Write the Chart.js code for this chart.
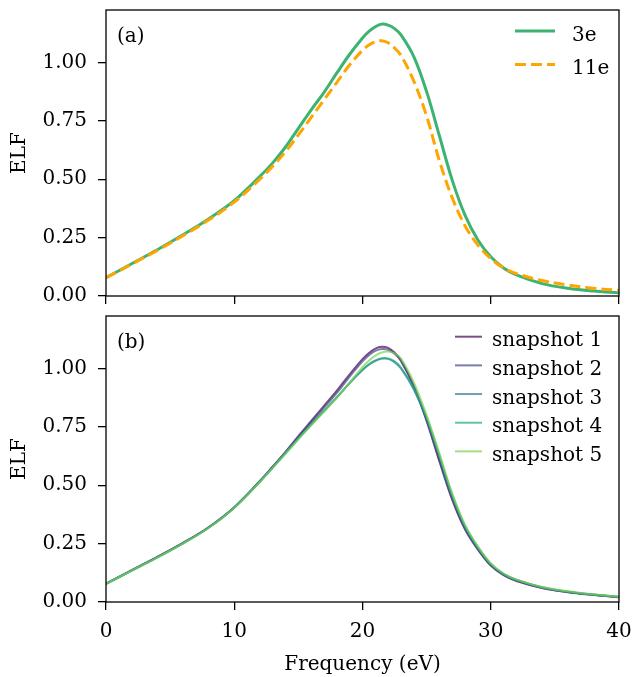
<!DOCTYPE html>
<html>
<head>
<meta charset="utf-8">
<script src="https://cdn.jsdelivr.net/npm/chart.js@4.4.1/dist/chart.umd.min.js"></script>
<style>
  body { margin: 0; background: #fff; }
  #wrap { position: relative; width: 632px; height: 677px; }
  canvas { position: absolute; left: 0; }
</style>
</head>
<body>
<div id="wrap">
  <canvas id="panelA" width="632" height="310" style="top:0"></canvas>
  <canvas id="panelB" width="632" height="372" style="top:305px"></canvas>
</div>
<script>
// frequency grid (eV), shared by every curve
const freq = [0, 2, 4, 6, 8, 10, 12, 13, 14, 15, 16, 17, 18, 19, 20, 20.5, 21, 21.5, 22, 22.5,
              23, 24, 25, 26, 27, 28, 29, 30, 31, 32, 34, 36, 38, 40];

// panel (a)
const elf3e  = [0.078, 0.138, 0.198, 0.262, 0.330, 0.408, 0.512, 0.570, 0.638, 0.718, 0.797, 0.872, 0.955, 1.035, 1.105, 1.133, 1.153, 1.164, 1.160, 1.145,
                1.118, 1.025, 0.875, 0.685, 0.495, 0.345, 0.240, 0.168, 0.120, 0.090, 0.053, 0.033, 0.021, 0.013];
const elf11e = [0.078, 0.136, 0.195, 0.258, 0.325, 0.402, 0.500, 0.556, 0.618, 0.690, 0.765, 0.840, 0.915, 0.990, 1.052, 1.075, 1.088, 1.093, 1.084, 1.062,
                1.030, 0.920, 0.770, 0.578, 0.420, 0.300, 0.218, 0.160, 0.120, 0.096, 0.066, 0.047, 0.033, 0.024];

// panel (b)
const snap1 = [0.079, 0.136, 0.193, 0.253, 0.320, 0.406, 0.518, 0.580, 0.643, 0.710, 0.775, 0.840, 0.905, 0.975, 1.040, 1.066, 1.085, 1.093, 1.088, 1.068,
               1.035, 0.925, 0.775, 0.602, 0.437, 0.310, 0.224, 0.156, 0.115, 0.090, 0.060, 0.042, 0.030, 0.020];
const snap2 = [0.078, 0.135, 0.192, 0.252, 0.319, 0.405, 0.517, 0.578, 0.640, 0.706, 0.769, 0.832, 0.895, 0.965, 1.030, 1.057, 1.075, 1.083, 1.080, 1.063,
               1.032, 0.922, 0.778, 0.607, 0.442, 0.314, 0.227, 0.158, 0.117, 0.092, 0.061, 0.043, 0.031, 0.021];
const snap3 = [0.078, 0.134, 0.191, 0.251, 0.318, 0.404, 0.515, 0.576, 0.637, 0.700, 0.760, 0.818, 0.876, 0.937, 0.993, 1.016, 1.032, 1.042, 1.041, 1.027,
               1.000, 0.910, 0.785, 0.622, 0.452, 0.321, 0.232, 0.161, 0.119, 0.094, 0.062, 0.044, 0.031, 0.021];
const snap4 = [0.078, 0.134, 0.191, 0.251, 0.318, 0.404, 0.516, 0.577, 0.638, 0.700, 0.760, 0.819, 0.877, 0.938, 0.995, 1.018, 1.034, 1.044, 1.043, 1.030,
               1.003, 0.915, 0.790, 0.627, 0.457, 0.325, 0.234, 0.163, 0.120, 0.095, 0.063, 0.045, 0.032, 0.022];
const snap5 = [0.078, 0.134, 0.190, 0.250, 0.317, 0.403, 0.514, 0.574, 0.635, 0.696, 0.756, 0.815, 0.874, 0.940, 1.005, 1.033, 1.055, 1.068, 1.072, 1.064,
               1.042, 0.940, 0.800, 0.635, 0.465, 0.330, 0.238, 0.166, 0.122, 0.096, 0.064, 0.046, 0.033, 0.022];

const snapLabels = ['snapshot 1', 'snapshot 2', 'snapshot 3', 'snapshot 4', 'snapshot 5'];
const snapColors = ['rgba(68,1,84,0.7)', 'rgba(65,68,135,0.7)', 'rgba(42,120,142,0.7)',
                    'rgba(34,168,132,0.7)', 'rgba(122,209,81,0.7)'];
const xTicks = [0, 10, 20, 30, 40];
const yTicks = [0, 0.25, 0.5, 0.75, 1.0];

Chart.defaults.font.family = '"DejaVu Serif", serif';
Chart.defaults.font.size = 20;
Chart.defaults.color = '#000';

let toPoints = function(ys) {
    return freq.map((x, i) => ({x: x, y: ys[i]}))
}

// frame, panel tag and an in-axes legend, matplotlib style
const panelDecor = {
    id: 'panelDecor',
    afterDraw(chart, args, opts) {
        const ctx = chart.ctx
        const a = chart.chartArea
        ctx.save()
        ctx.strokeStyle = '#000'
        ctx.lineWidth = 1.3
        ctx.strokeRect(a.left, a.top, a.right - a.left, a.bottom - a.top)

        ctx.font = '20px "DejaVu Serif"'
        ctx.fillStyle = '#000'
        ctx.textBaseline = 'alphabetic'
        ctx.fillText(opts.tag, 117, a.top + 31.5)

        const lg = opts.legend
        opts.order.forEach((di, row) => {
            const ds = chart.data.datasets[di]
            const y = lg.y + row * lg.dy
            ctx.strokeStyle = ds.borderColor
            ctx.lineWidth = ds.borderWidth
            ctx.setLineDash(ds.borderDash || [])
            ctx.beginPath()
            ctx.moveTo(lg.x0, y)
            ctx.lineTo(lg.x1, y)
            ctx.stroke()
            ctx.setLineDash([])
            ctx.fillText(ds.label, lg.tx, y + 9.5)
        })
        ctx.restore()
    }
}

let noPad = function(s) {
    s.paddingTop = 0
    s.paddingBottom = 0
    s.paddingLeft = 0
    s.paddingRight = 0
}

let makeScales = function(showX, xHeight) {
    const grid = {drawOnChartArea: false, drawTicks: true, tickLength: 8, color: '#000', lineWidth: 1.3}
    return {
        x: {
            type: 'linear', min: 0, max: 40,
            border: {display: false},
            grid: grid,
            afterBuildTicks: s => { s.ticks = xTicks.map(v => ({value: v})) },
            ticks: {padding: 10, maxRotation: 0, callback: v => showX ? String(v) : ''},
            title: {display: showX, text: 'Frequency (eV)', padding: {top: 3, bottom: 0}},
            afterFit: s => { s.height = xHeight; noPad(s) }
        },
        y: {
            type: 'linear', min: 0, max: 1.2245,
            border: {display: false},
            grid: grid,
            afterBuildTicks: s => { s.ticks = yTicks.map(v => ({value: v})) },
            ticks: {padding: 11, callback: v => v.toFixed(2)},
            title: {display: true, text: 'ELF', padding: {top: 8, bottom: 0}},
            afterFit: s => { s.width = 106; noPad(s) }
        }
    }
}

new Chart(document.getElementById('panelA'), {
    type: 'line',
    data: {
        datasets: [
            {label: '3e', data: toPoints(elf3e), borderColor: '#3cb371', borderWidth: 3, order: 1},
            {label: '11e', data: toPoints(elf11e), borderColor: '#ffa500', borderWidth: 3, borderDash: [11, 5], order: 0}
        ]
    },
    options: {
        responsive: false,
        animation: false,
        devicePixelRatio: 1,
        layout: {padding: {top: 10, right: 13, left: 0, bottom: 0}},
        elements: {point: {radius: 0}, line: {tension: 0.35, fill: false}},
        scales: makeScales(false, 14),
        plugins: {
            legend: {display: false},
            tooltip: {enabled: false},
            panelDecor: {tag: '(a)', order: [0, 1], legend: {x0: 515, x1: 555, y: 31, dy: 33.5, tx: 572}}
        }
    },
    plugins: [panelDecor]
});

const snaps = [snap1, snap2, snap3, snap4, snap5]
new Chart(document.getElementById('panelB'), {
    type: 'line',
    data: {
        datasets: snaps.map((s, i) => ({
            label: snapLabels[i],
            data: toPoints(s),
            borderColor: snapColors[i],
            borderWidth: 2,
            order: 4 - i
        }))
    },
    options: {
        responsive: false,
        animation: false,
        devicePixelRatio: 1,
        layout: {padding: {top: 11, right: 13, left: 0, bottom: 0}},
        elements: {point: {radius: 0}, line: {tension: 0.35, fill: false}},
        scales: makeScales(true, 75),
        plugins: {
            legend: {display: false},
            tooltip: {enabled: false},
            panelDecor: {tag: '(b)', order: [0, 1, 2, 3, 4], legend: {x0: 455, x1: 482, y: 31.7, dy: 28.67, tx: 492}}
        }
    },
    plugins: [panelDecor]
});
</script>
</body>
</html>
